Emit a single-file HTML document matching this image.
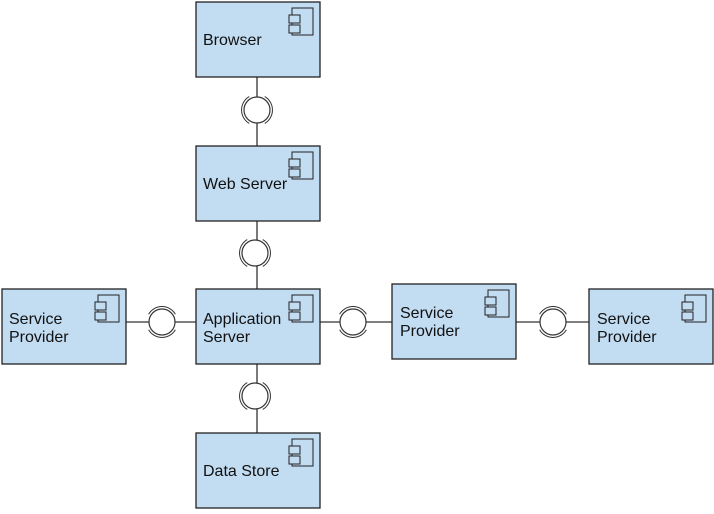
<!DOCTYPE html>
<html><head><style>body{margin:0;background:#fff}</style></head><body>
<svg width="714" height="509" xmlns="http://www.w3.org/2000/svg" font-family="Liberation Sans, sans-serif" font-size="16">
<defs>
<g id="ic" fill="#c2dcf2" stroke="#222" stroke-width="1">
<rect x="-28" y="6" width="21" height="27"/>
<rect x="-31" y="13" width="11" height="8"/>
<rect x="-31" y="23" width="11" height="8"/>
</g>
<g id="sv" fill="none" stroke="#333" stroke-width="1">
<path d="M-7.75 13.4 A15.5 15.5 0 0 1 -7.75 -13.4 M7.75 -13.4 A15.5 15.5 0 0 1 7.75 13.4"/>
</g>
<g id="sh" fill="none" stroke="#333" stroke-width="1">
<path d="M-13.4 -7.75 A15.5 15.5 0 0 1 13.4 -7.75 M13.4 7.75 A15.5 15.5 0 0 1 -13.4 7.75"/>
</g>
</defs>
<g stroke="#333" stroke-width="1.3" fill="none">
<line x1="257" y1="77" x2="257" y2="146"/>
<line x1="257" y1="221" x2="257" y2="289"/>
<line x1="257" y1="364" x2="257" y2="433"/>
<line x1="126" y1="322" x2="196" y2="322"/>
<line x1="320" y1="322" x2="392" y2="322"/>
<line x1="516" y1="322" x2="589" y2="322"/>
</g>
<g stroke="#333" stroke-width="1.2" fill="#fff">
<circle cx="257" cy="110" r="13"/><circle cx="255" cy="253" r="13"/><circle cx="255" cy="396" r="13"/>
<circle cx="162" cy="322" r="13"/><circle cx="353" cy="322" r="13"/><circle cx="553" cy="322" r="13"/>
</g>
<use href="#sv" x="257" y="110"/><use href="#sv" x="255" y="253"/><use href="#sv" x="255" y="396"/>
<use href="#sh" x="162" y="322"/><use href="#sh" x="353" y="322"/><use href="#sh" x="553" y="322"/>
<g fill="#c2dcf2" stroke="#222" stroke-width="1.3">
<rect x="196" y="2" width="124" height="75"/>
<rect x="196" y="146" width="124" height="75"/>
<rect x="196" y="289" width="124" height="75"/>
<rect x="196" y="433" width="124" height="75"/>
<rect x="2" y="289" width="124" height="75"/>
<rect x="392" y="284" width="124" height="75"/>
<rect x="589" y="289" width="124" height="75"/>
</g>
<use href="#ic" x="320" y="2"/><use href="#ic" x="320" y="146"/><use href="#ic" x="320" y="289"/>
<use href="#ic" x="320" y="433"/><use href="#ic" x="126" y="289"/><use href="#ic" x="516" y="284"/><use href="#ic" x="713" y="289"/>
<g fill="#111">
<text x="203" y="45">Browser</text>
<text x="203" y="189">Web Server</text>
<text x="203" y="324">Application</text><text x="203" y="342">Server</text>
<text x="203" y="476">Data Store</text>
<text x="9" y="324">Service</text><text x="9" y="342">Provider</text>
<text x="400" y="318">Service</text><text x="400" y="336">Provider</text>
<text x="597" y="324">Service</text><text x="597" y="342">Provider</text>
</g>
</svg>
</body></html>
